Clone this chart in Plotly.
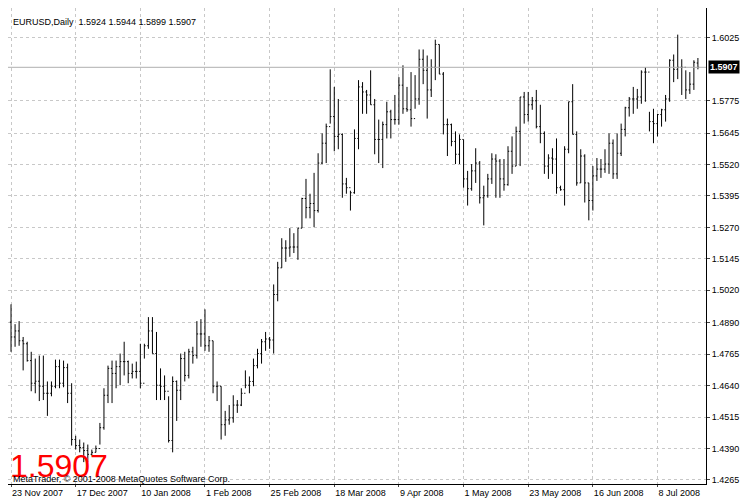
import pandas as pd
import plotly.graph_objects as go

# EURUSD daily bars
highs = [1.4964, 1.4885, 1.4897, 1.4834, 1.4815, 1.4775, 1.4748, 1.4760, 1.4760, 1.4657,
         1.4657, 1.4744, 1.4744, 1.4740, 1.4728, 1.4650, 1.4441, 1.4426, 1.4414, 1.4406,
         1.4386, 1.4402, 1.4492, 1.4630, 1.4720, 1.4740, 1.4740, 1.4768, 1.4815, 1.4740,
         1.4728, 1.4736, 1.4807, 1.4807, 1.4913, 1.4913, 1.4854, 1.4709, 1.4681, 1.4598,
         1.4677, 1.4661, 1.4768, 1.4775, 1.4787, 1.4795, 1.4897, 1.4905, 1.4944, 1.4838,
         1.4819, 1.4657, 1.4638, 1.4540, 1.4563, 1.4602, 1.4583, 1.4630, 1.4701, 1.4677,
         1.4748, 1.4787, 1.4826, 1.4854, 1.4834, 1.5043, 1.5133, 1.5227, 1.5219, 1.5267,
         1.5247, 1.5267, 1.5388, 1.5463, 1.5404, 1.5487, 1.5565, 1.5644, 1.5683, 1.5899,
         1.5829, 1.5781, 1.5644, 1.5467, 1.5416, 1.5660, 1.5856, 1.5848, 1.5817, 1.5895,
         1.5781, 1.5699, 1.5691, 1.5770, 1.5738, 1.5797, 1.5868, 1.5915, 1.5829, 1.5888,
         1.5876, 1.5978, 1.5978, 1.5954, 1.5939, 1.6017, 1.5998, 1.5888, 1.5703, 1.5683,
         1.5652, 1.5640, 1.5620, 1.5495, 1.5522, 1.5585, 1.5534, 1.5436, 1.5483, 1.5565,
         1.5561, 1.5542, 1.5542, 1.5593, 1.5632, 1.5671, 1.5789, 1.5809, 1.5809, 1.5789,
         1.5817, 1.5758, 1.5652, 1.5561, 1.5585, 1.5624, 1.5436, 1.5593, 1.5770, 1.5840,
         1.5652, 1.5581, 1.5561, 1.5447, 1.5514, 1.5546, 1.5542, 1.5581, 1.5644, 1.5620,
         1.5644, 1.5683, 1.5750, 1.5789, 1.5829, 1.5821, 1.5895, 1.5907, 1.5730, 1.5742,
         1.5722, 1.5742, 1.5797, 1.5939, 1.5958, 1.6037, 1.5939, 1.5895, 1.5888, 1.5935,
         1.5944]
lows = [1.4775, 1.4795, 1.4799, 1.4701, 1.4736, 1.4618, 1.4610, 1.4579, 1.4583, 1.4520,
        1.4598, 1.4630, 1.4630, 1.4634, 1.4571, 1.4402, 1.4386, 1.4375, 1.4336, 1.4336,
        1.4363, 1.4375, 1.4406, 1.4465, 1.4571, 1.4571, 1.4630, 1.4642, 1.4681, 1.4650,
        1.4669, 1.4669, 1.4630, 1.4748, 1.4787, 1.4768, 1.4583, 1.4583, 1.4583, 1.4414,
        1.4375, 1.4500, 1.4583, 1.4657, 1.4669, 1.4728, 1.4748, 1.4795, 1.4779, 1.4775,
        1.4610, 1.4579, 1.4426, 1.4441, 1.4485, 1.4493, 1.4532, 1.4559, 1.4630, 1.4610,
        1.4638, 1.4709, 1.4728, 1.4779, 1.4787, 1.4768, 1.4976, 1.5109, 1.5133, 1.5153,
        1.5168, 1.5141, 1.5267, 1.5306, 1.5306, 1.5271, 1.5329, 1.5522, 1.5526, 1.5683,
        1.5573, 1.5581, 1.5388, 1.5404, 1.5337, 1.5404, 1.5581, 1.5722, 1.5722, 1.5758,
        1.5561, 1.5526, 1.5506, 1.5624, 1.5624, 1.5679, 1.5679, 1.5722, 1.5730, 1.5671,
        1.5742, 1.5758, 1.5840, 1.5703, 1.5789, 1.5856, 1.5880, 1.5640, 1.5554, 1.5593,
        1.5522, 1.5522, 1.5428, 1.5357, 1.5416, 1.5447, 1.5365, 1.5278, 1.5388, 1.5443,
        1.5388, 1.5388, 1.5416, 1.5436, 1.5483, 1.5514, 1.5514, 1.5683, 1.5691, 1.5738,
        1.5664, 1.5605, 1.5483, 1.5463, 1.5483, 1.5404, 1.5416, 1.5357, 1.5565, 1.5640,
        1.5436, 1.5447, 1.5369, 1.5298, 1.5337, 1.5455, 1.5467, 1.5487, 1.5483, 1.5463,
        1.5463, 1.5554, 1.5632, 1.5711, 1.5722, 1.5742, 1.5762, 1.5770, 1.5652, 1.5605,
        1.5632, 1.5671, 1.5691, 1.5770, 1.5848, 1.5860, 1.5797, 1.5781, 1.5801, 1.5817,
        1.5899]
closes = [1.4834, 1.4858, 1.4819, 1.4807, 1.4740, 1.4650, 1.4658, 1.4638, 1.4610, 1.4610,
          1.4638, 1.4716, 1.4650, 1.4712, 1.4610, 1.4426, 1.4402, 1.4394, 1.4382, 1.4367,
          1.4375, 1.4390, 1.4473, 1.4602, 1.4709, 1.4689, 1.4716, 1.4736, 1.4736, 1.4689,
          1.4697, 1.4697, 1.4650, 1.4799, 1.4858, 1.4768, 1.4642, 1.4638, 1.4618, 1.4422,
          1.4657, 1.4622, 1.4748, 1.4681, 1.4775, 1.4760, 1.4846, 1.4846, 1.4799, 1.4819,
          1.4638, 1.4638, 1.4485, 1.4504, 1.4512, 1.4563, 1.4563, 1.4610, 1.4642, 1.4657,
          1.4720, 1.4768, 1.4815, 1.4826, 1.4822, 1.5003, 1.5109, 1.5188, 1.5188, 1.5192,
          1.5192, 1.5267, 1.5385, 1.5349, 1.5365, 1.5337, 1.5526, 1.5605, 1.5671, 1.5711,
          1.5632, 1.5640, 1.5443, 1.5428, 1.5408, 1.5624, 1.5829, 1.5809, 1.5797, 1.5758,
          1.5620, 1.5620, 1.5679, 1.5730, 1.5699, 1.5699, 1.5836, 1.5742, 1.5738, 1.5703,
          1.5781, 1.5939, 1.5895, 1.5817, 1.5907, 1.5998, 1.5880, 1.5679, 1.5679, 1.5612,
          1.5561, 1.5620, 1.5463, 1.5424, 1.5495, 1.5526, 1.5388, 1.5396, 1.5463, 1.5542,
          1.5534, 1.5463, 1.5440, 1.5573, 1.5514, 1.5652, 1.5789, 1.5719, 1.5758, 1.5774,
          1.5671, 1.5644, 1.5514, 1.5546, 1.5542, 1.5428, 1.5420, 1.5581, 1.5770, 1.5640,
          1.5447, 1.5554, 1.5447, 1.5377, 1.5475, 1.5502, 1.5502, 1.5522, 1.5605, 1.5483,
          1.5565, 1.5660, 1.5746, 1.5781, 1.5781, 1.5789, 1.5888, 1.5888, 1.5691, 1.5683,
          1.5719, 1.5738, 1.5781, 1.5935, 1.5899, 1.5907, 1.5907, 1.5817, 1.5840, 1.5927,
          1.5907]
first_open = 1.4893
last_open = 1.5924
price_ticks = [1.6025, 1.5775, 1.5645, 1.5520, 1.5395, 1.5270, 1.5145,
               1.5020, 1.4890, 1.4765, 1.4640, 1.4515, 1.4390, 1.4265]
current_price = 1.5907

opens = [first_open] + closes[:-1]
opens[-1] = last_open

days = pd.bdate_range("2007-11-23", periods=200)
days = days[~days.strftime("%m-%d").isin(["12-25", "01-01"])][:len(closes)]
idx = list(range(len(closes)))
tick_idx = idx[::16]
tick_txt = [f"{d.day} {d.strftime('%b %Y')}" for d in days[::16]]

fig = go.Figure(go.Ohlc(
    x=idx, open=opens, high=highs, low=lows, close=closes,
    increasing=dict(line=dict(color="black", width=1)),
    decreasing=dict(line=dict(color="black", width=1)),
    tickwidth=0.3, hoverinfo="skip"))

fig.add_hline(y=current_price, line=dict(color="#b0b0b0", width=1))

grid = dict(showgrid=True, gridcolor="#c8c8c8", griddash="3px,3px", gridwidth=1, zeroline=False)
fig.update_layout(
    width=750, height=500, margin=dict(l=0, r=52, t=0, b=24),
    paper_bgcolor="white", plot_bgcolor="white", showlegend=False,
    font=dict(family="Liberation Sans", size=9, color="black"),
    xaxis=dict(rangeslider=dict(visible=False), range=[-0.75, 172],
               tickvals=tick_idx, ticktext=tick_txt, tickangle=0,
               ticks="outside", ticklen=2, ticklabelposition="outside right",
               showline=True, linecolor="black", tickfont=dict(size=9), **grid),
    yaxis=dict(side="right", range=[1.4249, 1.6143], tickvals=price_ticks,
               ticktext=[f"{v:.4f}" for v in price_ticks], ticks="outside", ticklen=3,
               showline=True, linecolor="black", tickfont=dict(size=9), **grid),
)

fig.add_annotation(xref="paper", yref="paper", x=0.005, y=0.985, xanchor="left", yanchor="top",
                   text="EURUSD,Daily  1.5924 1.5944 1.5899 1.5907", showarrow=False,
                   font=dict(size=9))
fig.add_annotation(xref="paper", yref="paper", x=0.0, y=-0.005, xanchor="left", yanchor="bottom",
                   text="1.5907", showarrow=False,
                   font=dict(family="Liberation Sans", size=32, color="red"))
fig.add_annotation(xref="paper", yref="paper", x=0.005, y=-0.005, xanchor="left", yanchor="bottom",
                   text="MetaTrader, © 2001-2008 MetaQuotes Software Corp.", showarrow=False,
                   font=dict(size=9))
fig.add_annotation(xref="paper", yref="y", x=1.003, y=current_price, xanchor="left",
                   text="<b>1.5907</b>", showarrow=False, bgcolor="black",
                   font=dict(size=9, color="white"), borderpad=1)

fig.write_html("out.html")
